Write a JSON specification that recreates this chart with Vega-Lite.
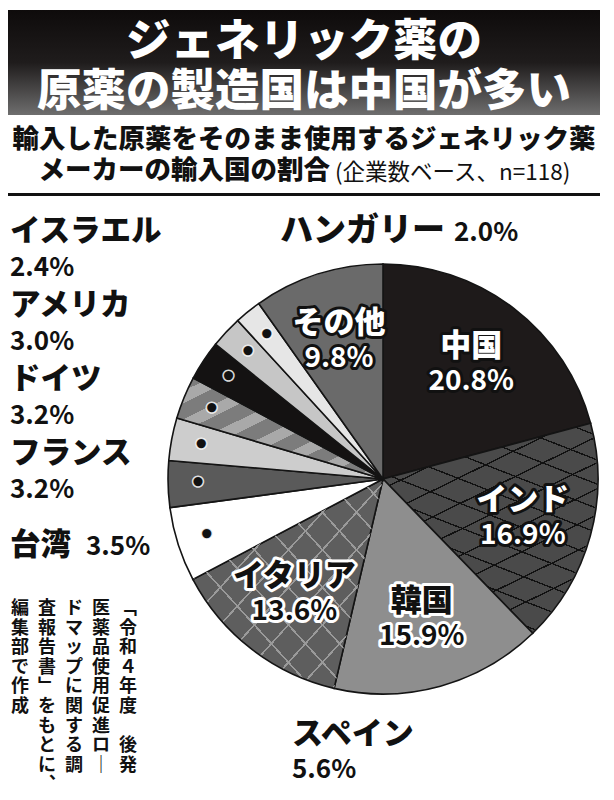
{
  "$schema": "https://vega.github.io/schema/vega-lite/v6.json",
  "padding": {"left": 8, "top": 10, "right": 0, "bottom": 0},
  "autosize": {"type": "pad"},
  "background": "white",
  "spacing": 0,
  "bounds": "flush",
  "config": {
    "view": {"stroke": null},
    "font": "Noto Sans CJK JP",
    "text": {"font": "Noto Sans CJK JP"},
    "concat": {"spacing": 0}
  },
  "datasets": {
    "share": [
      {"no": 1, "country": "中国", "share": 0.208},
      {"no": 2, "country": "インド", "share": 0.169},
      {"no": 3, "country": "韓国", "share": 0.159},
      {"no": 4, "country": "イタリア", "share": 0.136},
      {"no": 5, "country": "スペイン", "share": 0.056},
      {"no": 6, "country": "台湾", "share": 0.035},
      {"no": 7, "country": "フランス", "share": 0.032},
      {"no": 8, "country": "ドイツ", "share": 0.032},
      {"no": 9, "country": "アメリカ", "share": 0.030},
      {"no": 10, "country": "イスラエル", "share": 0.024},
      {"no": 11, "country": "ハンガリー", "share": 0.020},
      {"no": 12, "country": "その他", "share": 0.098}
    ],
    "title": [
      {"line": 1, "text": "ジェネリック薬の"},
      {"line": 2, "text": "原薬の製造国は中国が多い"}
    ],
    "subtitle": [
      {"line": 1, "part": "main", "text": "輸入した原薬をそのまま使用するジェネリック薬"},
      {"line": 2, "part": "main", "text": "メーカーの輸入国の割合"},
      {"line": 2, "part": "note", "text": "(企業数ベース、n=118)"}
    ],
    "note": [
      {"col": 1, "i": 1, "ch": "﹁"}, {"col": 1, "i": 2, "ch": "令"}, {"col": 1, "i": 3, "ch": "和"}, {"col": 1, "i": 4, "ch": "４"},
      {"col": 1, "i": 5, "ch": "年"}, {"col": 1, "i": 6, "ch": "度"}, {"col": 1, "i": 8, "ch": "後"}, {"col": 1, "i": 9, "ch": "発"},
      {"col": 2, "i": 1, "ch": "医"}, {"col": 2, "i": 2, "ch": "薬"}, {"col": 2, "i": 3, "ch": "品"}, {"col": 2, "i": 4, "ch": "使"},
      {"col": 2, "i": 5, "ch": "用"}, {"col": 2, "i": 6, "ch": "促"}, {"col": 2, "i": 7, "ch": "進"}, {"col": 2, "i": 8, "ch": "ロ"}, {"col": 2, "i": 9, "ch": "｜"},
      {"col": 3, "i": 1, "ch": "ド"}, {"col": 3, "i": 2, "ch": "マ"}, {"col": 3, "i": 3, "ch": "ッ"}, {"col": 3, "i": 4, "ch": "プ"},
      {"col": 3, "i": 5, "ch": "に"}, {"col": 3, "i": 6, "ch": "関"}, {"col": 3, "i": 7, "ch": "す"}, {"col": 3, "i": 8, "ch": "る"}, {"col": 3, "i": 9, "ch": "調"},
      {"col": 4, "i": 1, "ch": "査"}, {"col": 4, "i": 2, "ch": "報"}, {"col": 4, "i": 3, "ch": "告"}, {"col": 4, "i": 4, "ch": "書"}, {"col": 4, "i": 5, "ch": "﹂"},
      {"col": 4, "i": 6, "ch": "を"}, {"col": 4, "i": 7, "ch": "も"}, {"col": 4, "i": 8, "ch": "と"}, {"col": 4, "i": 9, "ch": "に"}, {"col": 4, "i": 10, "ch": "︑"},
      {"col": 5, "i": 1, "ch": "編"}, {"col": 5, "i": 2, "ch": "集"}, {"col": 5, "i": 3, "ch": "部"}, {"col": 5, "i": 4, "ch": "で"}, {"col": 5, "i": 5, "ch": "作"}, {"col": 5, "i": 6, "ch": "成"}
    ]
  },
  "vconcat": [
    {
      "width": 592,
      "height": 105,
      "data": {"name": "title"},
      "encoding": {
        "y": {"field": "line", "type": "ordinal", "axis": null, "scale": {"padding": 0.55}},
        "text": {"field": "text"}
      },
      "layer": [
        {
          "mark": {
            "type": "rect",
            "fill": {
              "gradient": "linear", "x1": 0, "y1": 0, "x2": 0, "y2": 1,
              "stops": [
                {"offset": 0, "color": "#0e0b0b"},
                {"offset": 0.5, "color": "#1f1c1c"},
                {"offset": 1, "color": "#6e6e6e"}
              ]
            }
          },
          "encoding": {"y": null, "text": null}
        },
        {
          "mark": {"type": "text", "fontSize": 44.5, "fontWeight": 900, "fill": "#ffffff", "dy": 5, "baseline": "middle"}
        }
      ]
    },
    {
      "width": 592,
      "height": 78,
      "data": {"name": "subtitle"},
      "encoding": {
        "y": {"field": "line", "type": "ordinal", "axis": null, "scale": {"padding": 0.68}},
        "text": {"field": "text"}
      },
      "layer": [
        {
          "transform": [{"filter": "datum.line === 1"}],
          "mark": {"type": "text", "fontSize": 26.5, "fontWeight": 900, "fill": "#111", "baseline": "middle", "dy": 3}
        },
        {
          "transform": [{"filter": "datum.line === 2 && datum.part === 'main'"}],
          "mark": {"type": "text", "fontSize": 26.5, "fontWeight": 900, "fill": "#111", "align": "right", "dx": 26, "baseline": "middle"}
        },
        {
          "transform": [{"filter": "datum.part === 'note'"}],
          "mark": {"type": "text", "fontSize": 22.5, "fontWeight": "normal", "fill": "#111", "align": "left", "dx": 31, "dy": 2, "baseline": "middle"}
        }
      ]
    },
    {
      "width": 592,
      "height": 3,
      "data": {"values": [{"rule": "divider"}]},
      "mark": {"type": "rect", "fill": "#111"},
      "encoding": {}
    },
    {
      "hconcat": [
        {
          "vconcat": [
            {
              "width": 156,
              "height": 404,
              "data": {"name": "share"},
              "transform": [{"filter": {"field": "country", "oneOf": ["イスラエル", "アメリカ", "ドイツ", "フランス", "台湾"]}}],
              "encoding": {
                "y": {"field": "country", "type": "nominal", "sort": ["イスラエル", "アメリカ", "ドイツ", "フランス", "台湾"], "scale": {"padding": 0.73}, "axis": null}
              },
              "layer": [
                {
                  "mark": {"type": "text", "align": "left", "baseline": "middle", "dx": -76, "dy": {"expr": "datum.country === '台湾' ? 0 : -18"}, "fontSize": 30.5, "fontWeight": 900, "fill": "#111"},
                  "encoding": {"text": {"field": "country"}}
                },
                {
                  "mark": {"type": "text", "align": "left", "baseline": "middle", "dx": {"expr": "datum.country === '台湾' ? 0 : -76"}, "dy": {"expr": "datum.country === '台湾' ? 1 : 18"}, "fontSize": 26, "fontWeight": "bold", "fill": "#111"},
                  "encoding": {"text": {"field": "share", "type": "quantitative", "format": ".1%"}}
                }
              ]
            },
            {
              "width": 156,
              "height": 190,
              "data": {"name": "note"},
              "mark": {"type": "text", "baseline": "middle", "align": "center", "fontSize": 18, "fontWeight": "bold", "fill": "#111", "dy": 3},
              "encoding": {
                "x": {"field": "col", "type": "ordinal", "sort": "descending", "scale": {"padding": 0.89, "align": 0.25}, "axis": null},
                "y": {"field": "i", "type": "ordinal", "scale": {"domain": [1, 2, 3, 4, 5, 6, 7, 8, 9, 10], "padding": 0.35, "align": 0}, "axis": null},
                "text": {"field": "ch"}
              }
            }
          ]
        },
        {
          "vconcat": [
            {
              "width": 434,
              "height": 63,
              "data": {"name": "share"},
              "transform": [{"filter": {"field": "country", "equal": "ハンガリー"}}],
              "layer": [
                {
                  "mark": {"type": "text", "align": "right", "baseline": "middle", "dx": 62, "dy": 3, "fontSize": 33, "fontWeight": 900, "fill": "#111"},
                  "encoding": {"text": {"field": "country"}}
                },
                {
                  "mark": {"type": "text", "align": "left", "baseline": "middle", "dx": 71, "dy": 5, "fontSize": 26, "fontWeight": "bold", "fill": "#111"},
                  "encoding": {"text": {"field": "share", "type": "quantitative", "format": ".1%"}}
                }
              ]
            },
            {
              "width": 434,
              "height": 440,
              "data": {"name": "share"},
              "encoding": {
                "theta": {"field": "share", "type": "quantitative", "stack": true},
                "order": {"field": "no", "type": "quantitative"}
              },
              "layer": [
                {
                  "mark": {"type": "arc", "radius": 215, "stroke": "#141414", "strokeWidth": 1.6},
                  "encoding": {
                    "color": {
                      "condition": {
                        "test": "datum.country === 'ドイツ'",
                        "value": {
                          "gradient": "linear", "x1": 0, "y1": 0, "x2": 1, "y2": 1,
                          "stops": [
                            {"offset": 0, "color": "#7c7c7c"}, {"offset": 0.08, "color": "#7c7c7c"},
                            {"offset": 0.08, "color": "#a9a9a9"}, {"offset": 0.14, "color": "#a9a9a9"},
                            {"offset": 0.14, "color": "#7c7c7c"}, {"offset": 0.22, "color": "#7c7c7c"},
                            {"offset": 0.22, "color": "#a9a9a9"}, {"offset": 0.28, "color": "#a9a9a9"},
                            {"offset": 0.28, "color": "#7c7c7c"}, {"offset": 0.36, "color": "#7c7c7c"},
                            {"offset": 0.36, "color": "#a9a9a9"}, {"offset": 0.42, "color": "#a9a9a9"},
                            {"offset": 0.42, "color": "#7c7c7c"}, {"offset": 0.5, "color": "#7c7c7c"},
                            {"offset": 0.5, "color": "#a9a9a9"}, {"offset": 0.56, "color": "#a9a9a9"},
                            {"offset": 0.56, "color": "#7c7c7c"}, {"offset": 0.64, "color": "#7c7c7c"},
                            {"offset": 0.64, "color": "#a9a9a9"}, {"offset": 0.7, "color": "#a9a9a9"},
                            {"offset": 0.7, "color": "#7c7c7c"}, {"offset": 0.78, "color": "#7c7c7c"},
                            {"offset": 0.78, "color": "#a9a9a9"}, {"offset": 0.84, "color": "#a9a9a9"},
                            {"offset": 0.84, "color": "#7c7c7c"}, {"offset": 0.92, "color": "#7c7c7c"},
                            {"offset": 0.92, "color": "#a9a9a9"}, {"offset": 1, "color": "#a9a9a9"}
                          ]
                        }
                      },
                      "field": "country", "type": "nominal", "legend": null,
                      "scale": {
                        "domain": ["中国", "インド", "韓国", "イタリア", "スペイン", "台湾", "フランス", "ドイツ", "アメリカ", "イスラエル", "ハンガリー", "その他"],
                        "range": ["#1e1a1a", "#4a4a4a", "#8e8e8e", "#5e5e5e", "#ffffff", "#5a5a5a", "#cdcdcd", "#868686", "#141212", "#c6c6c6", "#e6e6e6", "#6a6a6a"]
                      }
                    }
                  }
                },
                {
                  "mark": {"type": "arc", "radius": 214, "strokeWidth": 0},
                  "encoding": {
                    "detail": {"field": "country"},
                    "color": {
                      "condition": [
                        {
                          "test": "datum.country === 'インド'",
                          "value": {
                            "gradient": "linear", "x1": 0, "y1": 0, "x2": 0.5, "y2": 1,
                            "stops": [
                              {"offset": 0, "color": "rgba(0,0,0,0)"},
                              {"offset": 0.047, "color": "rgba(0,0,0,0)"}, {"offset": 0.047, "color": "#111"}, {"offset": 0.053, "color": "#111"}, {"offset": 0.053, "color": "rgba(0,0,0,0)"},
                              {"offset": 0.147, "color": "rgba(0,0,0,0)"}, {"offset": 0.147, "color": "#111"}, {"offset": 0.153, "color": "#111"}, {"offset": 0.153, "color": "rgba(0,0,0,0)"},
                              {"offset": 0.247, "color": "rgba(0,0,0,0)"}, {"offset": 0.247, "color": "#111"}, {"offset": 0.253, "color": "#111"}, {"offset": 0.253, "color": "rgba(0,0,0,0)"},
                              {"offset": 0.347, "color": "rgba(0,0,0,0)"}, {"offset": 0.347, "color": "#111"}, {"offset": 0.353, "color": "#111"}, {"offset": 0.353, "color": "rgba(0,0,0,0)"},
                              {"offset": 0.447, "color": "rgba(0,0,0,0)"}, {"offset": 0.447, "color": "#111"}, {"offset": 0.453, "color": "#111"}, {"offset": 0.453, "color": "rgba(0,0,0,0)"},
                              {"offset": 0.547, "color": "rgba(0,0,0,0)"}, {"offset": 0.547, "color": "#111"}, {"offset": 0.553, "color": "#111"}, {"offset": 0.553, "color": "rgba(0,0,0,0)"},
                              {"offset": 0.647, "color": "rgba(0,0,0,0)"}, {"offset": 0.647, "color": "#111"}, {"offset": 0.653, "color": "#111"}, {"offset": 0.653, "color": "rgba(0,0,0,0)"},
                              {"offset": 0.747, "color": "rgba(0,0,0,0)"}, {"offset": 0.747, "color": "#111"}, {"offset": 0.753, "color": "#111"}, {"offset": 0.753, "color": "rgba(0,0,0,0)"},
                              {"offset": 0.847, "color": "rgba(0,0,0,0)"}, {"offset": 0.847, "color": "#111"}, {"offset": 0.853, "color": "#111"}, {"offset": 0.853, "color": "rgba(0,0,0,0)"},
                              {"offset": 0.947, "color": "rgba(0,0,0,0)"}, {"offset": 0.947, "color": "#111"}, {"offset": 0.953, "color": "#111"}, {"offset": 0.953, "color": "rgba(0,0,0,0)"},
                              {"offset": 1, "color": "rgba(0,0,0,0)"}
                            ]
                          }
                        },
                        {
                          "test": "datum.country === 'イタリア'",
                          "value": {
                            "gradient": "linear", "x1": 0, "y1": 0, "x2": 1, "y2": 1,
                            "stops": [
                              {"offset": 0, "color": "rgba(0,0,0,0)"},
                              {"offset": 0.057, "color": "rgba(0,0,0,0)"}, {"offset": 0.057, "color": "#9a9a9a"}, {"offset": 0.063, "color": "#9a9a9a"}, {"offset": 0.063, "color": "rgba(0,0,0,0)"},
                              {"offset": 0.147, "color": "rgba(0,0,0,0)"}, {"offset": 0.147, "color": "#9a9a9a"}, {"offset": 0.153, "color": "#9a9a9a"}, {"offset": 0.153, "color": "rgba(0,0,0,0)"},
                              {"offset": 0.237, "color": "rgba(0,0,0,0)"}, {"offset": 0.237, "color": "#9a9a9a"}, {"offset": 0.243, "color": "#9a9a9a"}, {"offset": 0.243, "color": "rgba(0,0,0,0)"},
                              {"offset": 0.327, "color": "rgba(0,0,0,0)"}, {"offset": 0.327, "color": "#9a9a9a"}, {"offset": 0.333, "color": "#9a9a9a"}, {"offset": 0.333, "color": "rgba(0,0,0,0)"},
                              {"offset": 0.417, "color": "rgba(0,0,0,0)"}, {"offset": 0.417, "color": "#9a9a9a"}, {"offset": 0.423, "color": "#9a9a9a"}, {"offset": 0.423, "color": "rgba(0,0,0,0)"},
                              {"offset": 0.507, "color": "rgba(0,0,0,0)"}, {"offset": 0.507, "color": "#9a9a9a"}, {"offset": 0.513, "color": "#9a9a9a"}, {"offset": 0.513, "color": "rgba(0,0,0,0)"},
                              {"offset": 0.597, "color": "rgba(0,0,0,0)"}, {"offset": 0.597, "color": "#9a9a9a"}, {"offset": 0.603, "color": "#9a9a9a"}, {"offset": 0.603, "color": "rgba(0,0,0,0)"},
                              {"offset": 0.687, "color": "rgba(0,0,0,0)"}, {"offset": 0.687, "color": "#9a9a9a"}, {"offset": 0.693, "color": "#9a9a9a"}, {"offset": 0.693, "color": "rgba(0,0,0,0)"},
                              {"offset": 0.777, "color": "rgba(0,0,0,0)"}, {"offset": 0.777, "color": "#9a9a9a"}, {"offset": 0.783, "color": "#9a9a9a"}, {"offset": 0.783, "color": "rgba(0,0,0,0)"},
                              {"offset": 0.867, "color": "rgba(0,0,0,0)"}, {"offset": 0.867, "color": "#9a9a9a"}, {"offset": 0.873, "color": "#9a9a9a"}, {"offset": 0.873, "color": "rgba(0,0,0,0)"},
                              {"offset": 0.957, "color": "rgba(0,0,0,0)"}, {"offset": 0.957, "color": "#9a9a9a"}, {"offset": 0.963, "color": "#9a9a9a"}, {"offset": 0.963, "color": "rgba(0,0,0,0)"},
                              {"offset": 1, "color": "rgba(0,0,0,0)"}
                            ]
                          }
                        }
                      ],
                      "value": "rgba(0,0,0,0)"
                    }
                  }
                },
                {
                  "mark": {"type": "arc", "radius": 214, "strokeWidth": 0},
                  "encoding": {
                    "detail": {"field": "country"},
                    "color": {
                      "condition": [
                        {
                          "test": "datum.country === 'インド'",
                          "value": {
                            "gradient": "linear", "x1": 1, "y1": 0, "x2": 0.6, "y2": 1,
                            "stops": [
                              {"offset": 0, "color": "rgba(0,0,0,0)"},
                              {"offset": 0.047, "color": "rgba(0,0,0,0)"}, {"offset": 0.047, "color": "#111"}, {"offset": 0.053, "color": "#111"}, {"offset": 0.053, "color": "rgba(0,0,0,0)"},
                              {"offset": 0.147, "color": "rgba(0,0,0,0)"}, {"offset": 0.147, "color": "#111"}, {"offset": 0.153, "color": "#111"}, {"offset": 0.153, "color": "rgba(0,0,0,0)"},
                              {"offset": 0.247, "color": "rgba(0,0,0,0)"}, {"offset": 0.247, "color": "#111"}, {"offset": 0.253, "color": "#111"}, {"offset": 0.253, "color": "rgba(0,0,0,0)"},
                              {"offset": 0.347, "color": "rgba(0,0,0,0)"}, {"offset": 0.347, "color": "#111"}, {"offset": 0.353, "color": "#111"}, {"offset": 0.353, "color": "rgba(0,0,0,0)"},
                              {"offset": 0.447, "color": "rgba(0,0,0,0)"}, {"offset": 0.447, "color": "#111"}, {"offset": 0.453, "color": "#111"}, {"offset": 0.453, "color": "rgba(0,0,0,0)"},
                              {"offset": 0.547, "color": "rgba(0,0,0,0)"}, {"offset": 0.547, "color": "#111"}, {"offset": 0.553, "color": "#111"}, {"offset": 0.553, "color": "rgba(0,0,0,0)"},
                              {"offset": 0.647, "color": "rgba(0,0,0,0)"}, {"offset": 0.647, "color": "#111"}, {"offset": 0.653, "color": "#111"}, {"offset": 0.653, "color": "rgba(0,0,0,0)"},
                              {"offset": 0.747, "color": "rgba(0,0,0,0)"}, {"offset": 0.747, "color": "#111"}, {"offset": 0.753, "color": "#111"}, {"offset": 0.753, "color": "rgba(0,0,0,0)"},
                              {"offset": 0.847, "color": "rgba(0,0,0,0)"}, {"offset": 0.847, "color": "#111"}, {"offset": 0.853, "color": "#111"}, {"offset": 0.853, "color": "rgba(0,0,0,0)"},
                              {"offset": 0.947, "color": "rgba(0,0,0,0)"}, {"offset": 0.947, "color": "#111"}, {"offset": 0.953, "color": "#111"}, {"offset": 0.953, "color": "rgba(0,0,0,0)"},
                              {"offset": 1, "color": "rgba(0,0,0,0)"}
                            ]
                          }
                        },
                        {
                          "test": "datum.country === 'イタリア'",
                          "value": {
                            "gradient": "linear", "x1": 1, "y1": 0, "x2": 0, "y2": 1,
                            "stops": [
                              {"offset": 0, "color": "rgba(0,0,0,0)"},
                              {"offset": 0.057, "color": "rgba(0,0,0,0)"}, {"offset": 0.057, "color": "#9a9a9a"}, {"offset": 0.063, "color": "#9a9a9a"}, {"offset": 0.063, "color": "rgba(0,0,0,0)"},
                              {"offset": 0.147, "color": "rgba(0,0,0,0)"}, {"offset": 0.147, "color": "#9a9a9a"}, {"offset": 0.153, "color": "#9a9a9a"}, {"offset": 0.153, "color": "rgba(0,0,0,0)"},
                              {"offset": 0.237, "color": "rgba(0,0,0,0)"}, {"offset": 0.237, "color": "#9a9a9a"}, {"offset": 0.243, "color": "#9a9a9a"}, {"offset": 0.243, "color": "rgba(0,0,0,0)"},
                              {"offset": 0.327, "color": "rgba(0,0,0,0)"}, {"offset": 0.327, "color": "#9a9a9a"}, {"offset": 0.333, "color": "#9a9a9a"}, {"offset": 0.333, "color": "rgba(0,0,0,0)"},
                              {"offset": 0.417, "color": "rgba(0,0,0,0)"}, {"offset": 0.417, "color": "#9a9a9a"}, {"offset": 0.423, "color": "#9a9a9a"}, {"offset": 0.423, "color": "rgba(0,0,0,0)"},
                              {"offset": 0.507, "color": "rgba(0,0,0,0)"}, {"offset": 0.507, "color": "#9a9a9a"}, {"offset": 0.513, "color": "#9a9a9a"}, {"offset": 0.513, "color": "rgba(0,0,0,0)"},
                              {"offset": 0.597, "color": "rgba(0,0,0,0)"}, {"offset": 0.597, "color": "#9a9a9a"}, {"offset": 0.603, "color": "#9a9a9a"}, {"offset": 0.603, "color": "rgba(0,0,0,0)"},
                              {"offset": 0.687, "color": "rgba(0,0,0,0)"}, {"offset": 0.687, "color": "#9a9a9a"}, {"offset": 0.693, "color": "#9a9a9a"}, {"offset": 0.693, "color": "rgba(0,0,0,0)"},
                              {"offset": 0.777, "color": "rgba(0,0,0,0)"}, {"offset": 0.777, "color": "#9a9a9a"}, {"offset": 0.783, "color": "#9a9a9a"}, {"offset": 0.783, "color": "rgba(0,0,0,0)"},
                              {"offset": 0.867, "color": "rgba(0,0,0,0)"}, {"offset": 0.867, "color": "#9a9a9a"}, {"offset": 0.873, "color": "#9a9a9a"}, {"offset": 0.873, "color": "rgba(0,0,0,0)"},
                              {"offset": 0.957, "color": "rgba(0,0,0,0)"}, {"offset": 0.957, "color": "#9a9a9a"}, {"offset": 0.963, "color": "#9a9a9a"}, {"offset": 0.963, "color": "rgba(0,0,0,0)"},
                              {"offset": 1, "color": "rgba(0,0,0,0)"}
                            ]
                          }
                        }
                      ],
                      "value": "rgba(0,0,0,0)"
                    }
                  }
                },
                {
                  "mark": {"type": "text", "radius": 145, "fontSize": 31, "fontWeight": 900, "dy": -17, "strokeWidth": 6, "strokeJoin": "round", "baseline": "middle"},
                  "encoding": {
                    "detail": {"field": "country"},
                    "text": {"condition": {"test": "indexof(['中国','インド','韓国','イタリア','その他'], datum.country) >= 0", "field": "country"}, "value": ""},
                    "fill": {"condition": {"test": "datum.country === '韓国' || datum.country === 'イタリア'", "value": "#ffffff"}, "value": "#111111"},
                    "stroke": {"condition": {"test": "datum.country === '韓国' || datum.country === 'イタリア'", "value": "#ffffff"}, "value": "#111111"}
                  }
                },
                {
                  "mark": {"type": "text", "radius": 145, "fontSize": 28, "fontWeight": "bold", "dy": 18, "strokeWidth": 6, "strokeJoin": "round", "baseline": "middle"},
                  "encoding": {
                    "detail": {"field": "country"},
                    "text": {"condition": {"test": "indexof(['中国','インド','韓国','イタリア','その他'], datum.country) >= 0", "field": "share", "type": "quantitative", "format": ".1%"}, "value": ""},
                    "fill": {"condition": {"test": "datum.country === '韓国' || datum.country === 'イタリア'", "value": "#ffffff"}, "value": "#111111"},
                    "stroke": {"condition": {"test": "datum.country === '韓国' || datum.country === 'イタリア'", "value": "#ffffff"}, "value": "#111111"}
                  }
                },
                {
                  "mark": {"type": "text", "radius": 145, "fontSize": 31, "fontWeight": 900, "dy": -17, "baseline": "middle"},
                  "encoding": {
                    "detail": {"field": "country"},
                    "text": {"condition": {"test": "indexof(['中国','インド','韓国','イタリア','その他'], datum.country) >= 0", "field": "country"}, "value": ""},
                    "fill": {"condition": {"test": "datum.country === '韓国' || datum.country === 'イタリア'", "value": "#111111"}, "value": "#ffffff"}
                  }
                },
                {
                  "mark": {"type": "text", "radius": 145, "fontSize": 28, "fontWeight": "bold", "dy": 18, "baseline": "middle"},
                  "encoding": {
                    "detail": {"field": "country"},
                    "text": {"condition": {"test": "indexof(['中国','インド','韓国','イタリア','その他'], datum.country) >= 0", "field": "share", "type": "quantitative", "format": ".1%"}, "value": ""},
                    "fill": {"condition": {"test": "datum.country === '韓国' || datum.country === 'イタリア'", "value": "#111111"}, "value": "#ffffff"}
                  }
                },
                {
                  "mark": {"type": "text", "radius": 185, "fontSize": 12, "baseline": "middle", "fill": "#111111", "stroke": "#ffffff", "strokeWidth": 1.5, "strokeOpacity": 0.85},
                  "encoding": {
                    "detail": {"field": "country"},
                    "text": {"condition": {"test": "datum.no >= 5 && datum.no <= 11", "value": "●"}, "value": ""}
                  }
                }
              ]
            },
            {
              "width": 434,
              "height": 91,
              "data": {"name": "share"},
              "transform": [{"filter": {"field": "country", "equal": "スペイン"}}],
              "layer": [
                {
                  "mark": {"type": "text", "align": "left", "baseline": "middle", "dx": -91, "dy": -10, "fontSize": 31, "fontWeight": 900, "fill": "#111"},
                  "encoding": {"text": {"field": "country"}}
                },
                {
                  "mark": {"type": "text", "align": "left", "baseline": "middle", "dx": -91, "dy": 25, "fontSize": 26, "fontWeight": "bold", "fill": "#111"},
                  "encoding": {"text": {"field": "share", "type": "quantitative", "format": ".1%"}}
                }
              ]
            }
          ]
        }
      ]
    }
  ]
}
